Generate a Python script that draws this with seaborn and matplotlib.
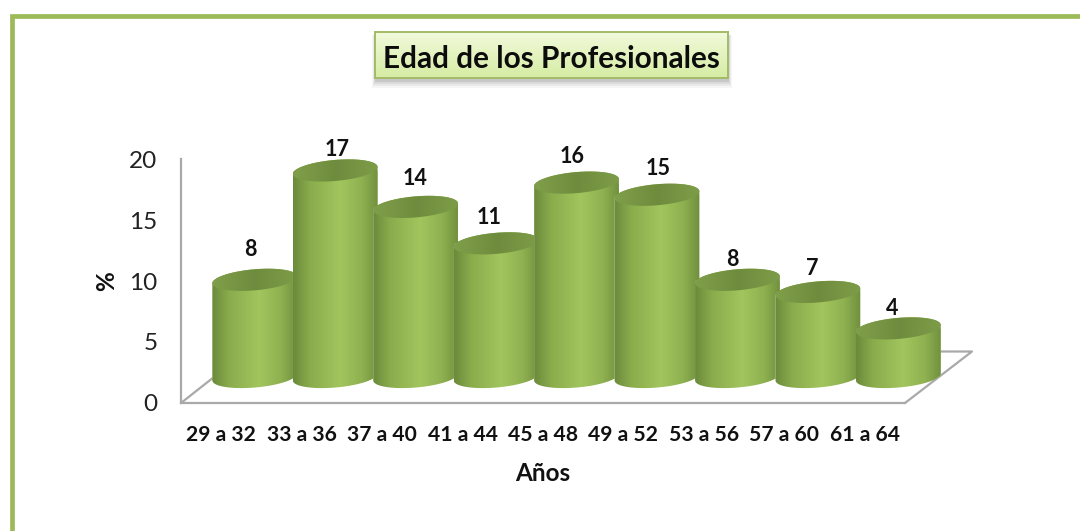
import numpy as np
import pandas as pd
import matplotlib
matplotlib.use("Agg")
import matplotlib.pyplot as plt
from matplotlib.colors import LinearSegmentedColormap
from matplotlib.patches import Rectangle
from matplotlib.path import Path
import seaborn as sns

categories = ["29 a 32", "33 a 36", "37 a 40", "41 a 44", "45 a 48",
              "49 a 52", "53 a 56", "57 a 60", "61 a 64"]
values = [8, 17, 14, 11, 16, 15, 8, 7, 4]
y_ticks = [0, 5, 10, 15, 20]

W, H = 1080, 531
sns.set_theme(style="white")
plt.rcParams["font.family"] = ["Lato", "DejaVu Sans"]

side_cmap = LinearSegmentedColormap.from_list("side", [
    (0.0, "#6b8a3b"), (0.2, "#8aac4c"), (0.55, "#a2c55e"),
    (0.8, "#8fb150"), (1.0, "#708f3e")])
top_cmap = LinearSegmentedColormap.from_list("top", [
    (0.0, "#809f4a"), (0.5, "#6f8c3e"), (1.0, "#7e9d48")])
title_cmap = LinearSegmentedColormap.from_list("title", ["#f1fadb", "#d6eca4"])


def px_axes(left, top, right, bottom, **kw):
    return fig.add_axes([left / W, 1 - bottom / H, (right - left) / W, (bottom - top) / H], **kw)


fig = plt.figure(figsize=(W / 100, H / 100), dpi=100, facecolor="white")

# decorations in pixel coordinates
deco = px_axes(0, 0, W, H)
deco.set_xlim(0, W)
deco.set_ylim(H, 0)
deco.axis("off")
deco.plot([11.5, 11.5, W], [H, 16, 16], color="#9dba59", lw=3.4, solid_joinstyle="miter")
grey = "#a9a9a9"
deco.plot([181, 214], [403, 377], color=grey, lw=1.6)
deco.plot([905, 972, 930], [403, 351.5, 351.5], color=grey, lw=1.6)
for grow, alpha in [(7, 0.05), (5, 0.07), (3, 0.10), (1, 0.14)]:
    deco.add_patch(Rectangle((375 - grow / 2, 35), 353 + grow, 46 + grow, color="#555555", alpha=alpha, lw=0))

# front axes: the labelled scale
step_x = 80.45
step_y = 12.15
ax = px_axes(181, 402.5 - 20 * step_y, 905, 402.5)
ax.patch.set_alpha(0)
ax.set_xlim(-0.5, len(categories) - 0.5)
ax.set_ylim(0, 20)
ax.set_xticks(range(len(categories)))
ax.set_xticklabels(categories, fontsize=15.2, fontweight="bold", color="#111111")
ax.set_yticks(y_ticks)
ax.set_yticklabels(y_ticks, fontsize=17.5, color="#222222")
ax.tick_params(axis="x", length=0, pad=16.5)
ax.tick_params(axis="y", length=0, pad=17)
ax.set_xlabel("Años", fontsize=17.5, fontweight="bold", color="#111111", labelpad=12)
ax.set_ylabel("%", fontsize=17.5, fontweight="bold", color="#111111", labelpad=8)
sns.despine(ax=ax)
for side in ["left", "bottom"]:
    ax.spines[side].set_color(grey)
    ax.spines[side].set_linewidth(1.6)

# bars sit half way into the floor, so they get their own shifted axes
shift_x, shift_y = 33.5, 25.5
lo_y, hi_y = -2, 21
lo_x, hi_x = -0.6, len(categories) - 0.4
bars = px_axes(181 + shift_x + (lo_x + 0.5) * step_x,
               402.5 - shift_y - hi_y * step_y,
               181 + shift_x + (hi_x + 0.5) * step_x,
               402.5 - shift_y - lo_y * step_y)
bars.patch.set_alpha(0)
data = pd.DataFrame({"Edad": categories, "Porcentaje": values})
sns.barplot(data=data, x="Edad", y="Porcentaje", color="#8fb04f", width=1.057, ax=bars, saturation=1)

tilt = np.radians(5)
semi_minor = 10.5
label_nudge = [(-4, 30), (2, 21), (-1, 28), (-7, 26), (-4, 26), (1, 26), (-5, 20), (-6, 23), (-6, 20)]
t_low = np.linspace(np.pi, 2 * np.pi, 60)
t_up = np.linspace(0, np.pi, 60)
t_all = np.linspace(0, 2 * np.pi, 120)


def ellipse(cx, cy, half_w, t):
    a = half_w * step_x
    dx = a * np.cos(t) * np.cos(tilt) - semi_minor * np.sin(t) * np.sin(tilt)
    dy = a * np.cos(t) * np.sin(tilt) + semi_minor * np.sin(t) * np.cos(tilt)
    return np.column_stack([cx + dx / step_x, cy + dy / step_y])


ramp = np.linspace(0, 1, 256).reshape(1, -1)
for i, patch in enumerate(bars.patches):
    x0, w, h = patch.get_x(), patch.get_width(), patch.get_height()
    cx = x0 + w / 2
    side = Path(np.vstack([ellipse(cx, 0, w / 2, t_low), ellipse(cx, h, w / 2, t_up)]), closed=False)
    patch.set_zorder(10 + 3 * i)
    patch.set_clip_path(side, transform=bars.transData)
    img = bars.imshow(ramp, cmap=side_cmap, extent=(x0, x0 + w, -2, h + 2), aspect="auto", zorder=11 + 3 * i)
    img.set_clip_path(side, transform=bars.transData)
    cap = Path(ellipse(cx, h, w / 2, t_all))
    img = bars.imshow(ramp, cmap=top_cmap, extent=(x0, x0 + w, h - 2, h + 2), aspect="auto", zorder=12 + 3 * i)
    img.set_clip_path(cap, transform=bars.transData)
    bars.annotate(str(values[i]), xy=(cx, h), xytext=label_nudge[i], textcoords="offset pixels",
                  ha="center", va="center", fontsize=15.5, fontweight="bold", color="#111111",
                  zorder=60)
bars.set_xlim(lo_x, hi_x)
bars.set_ylim(lo_y, hi_y)
bars.axis("off")

# title box
box = px_axes(375, 32, 728, 78)
box.imshow(np.linspace(0, 1, 64).reshape(-1, 1), cmap=title_cmap, aspect="auto", extent=(0, 1, 0, 1))
box.set_xticks([])
box.set_yticks([])
for s in box.spines.values():
    s.set_color("#a3bb68")
    s.set_linewidth(1.4)
box.text(0.5, 0.42, "Edad de los Profesionales", transform=box.transAxes, ha="center", va="center",
         fontsize=21.4, fontweight="bold", color="#0c0c0c")

fig.savefig("out.png", dpi=100)
